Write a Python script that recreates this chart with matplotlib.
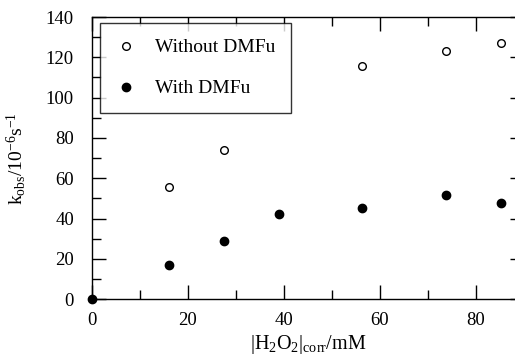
import matplotlib
matplotlib.use('Agg')
import matplotlib.pyplot as plt
from matplotlib.ticker import MultipleLocator

plt.rcParams['font.family'] = ['Liberation Serif', 'DejaVu Serif']
plt.rcParams['mathtext.fontset'] = 'custom'
plt.rcParams['mathtext.rm'] = 'Liberation Serif'
plt.rcParams['mathtext.it'] = 'Liberation Serif'

# H2O2 concentration (mM) and observed rate constants (10^-6 s^-1)
conc_without = [16.0, 27.5, 56.4, 73.8, 85.3]
kobs_without = [55.8, 73.8, 115.5, 123.2, 127.2]

conc_with = [0.0, 16.0, 27.6, 39.0, 56.4, 73.8, 85.3]
kobs_with = [0.0, 17.2, 28.8, 42.5, 45.1, 51.6, 47.6]

fig = plt.figure(figsize=(5.15, 3.57), dpi=100)
ax = fig.add_axes([92 / 515, 57.7 / 357, 431.6 / 515, 282.3 / 357])

ax.plot(conc_without, kobs_without, linestyle='none', marker='o', ms=5.5,
        mfc='white', mec='black', mew=1.0, label='Without DMFu', clip_on=False)
ax.plot(conc_with, kobs_with, linestyle='none', marker='o', ms=6,
        mfc='black', mec='black', label='With DMFu', clip_on=False)

ax.set_xlim(0, 90)
ax.set_ylim(0, 140)
ax.xaxis.set_major_locator(MultipleLocator(20))
ax.xaxis.set_minor_locator(MultipleLocator(10))
ax.yaxis.set_major_locator(MultipleLocator(20))
ax.yaxis.set_minor_locator(MultipleLocator(10))
ax.tick_params(which='both', direction='in', top=True, right=True,
               width=1.0, labelsize=13.5)
ax.tick_params(which='major', length=10)
ax.tick_params(which='minor', length=6.5)
ax.tick_params(axis='y', pad=13)
ax.tick_params(axis='x', pad=9)
for s in ax.spines.values():
    s.set_linewidth(1.0)

ax.set_xlabel(r'$\mathregular{|H_2O_2|_{corr}/mM}$', fontsize=14.5, labelpad=3)
ax.set_ylabel(r'$\mathregular{k_{obs}/10^{-6}s^{-1}}$', fontsize=14, labelpad=13)

leg = ax.legend(loc='upper left', bbox_to_anchor=(8 / 431.6, 1 - 6.3 / 282.3),
                borderaxespad=0, frameon=True, fancybox=False, fontsize=14,
                handletextpad=0.95, labelspacing=1.2, borderpad=0.8,
                handlelength=1.08)
leg.get_frame().set_edgecolor('black')
leg.get_frame().set_linewidth(1.0)

fig.savefig('out.png', dpi=100)
